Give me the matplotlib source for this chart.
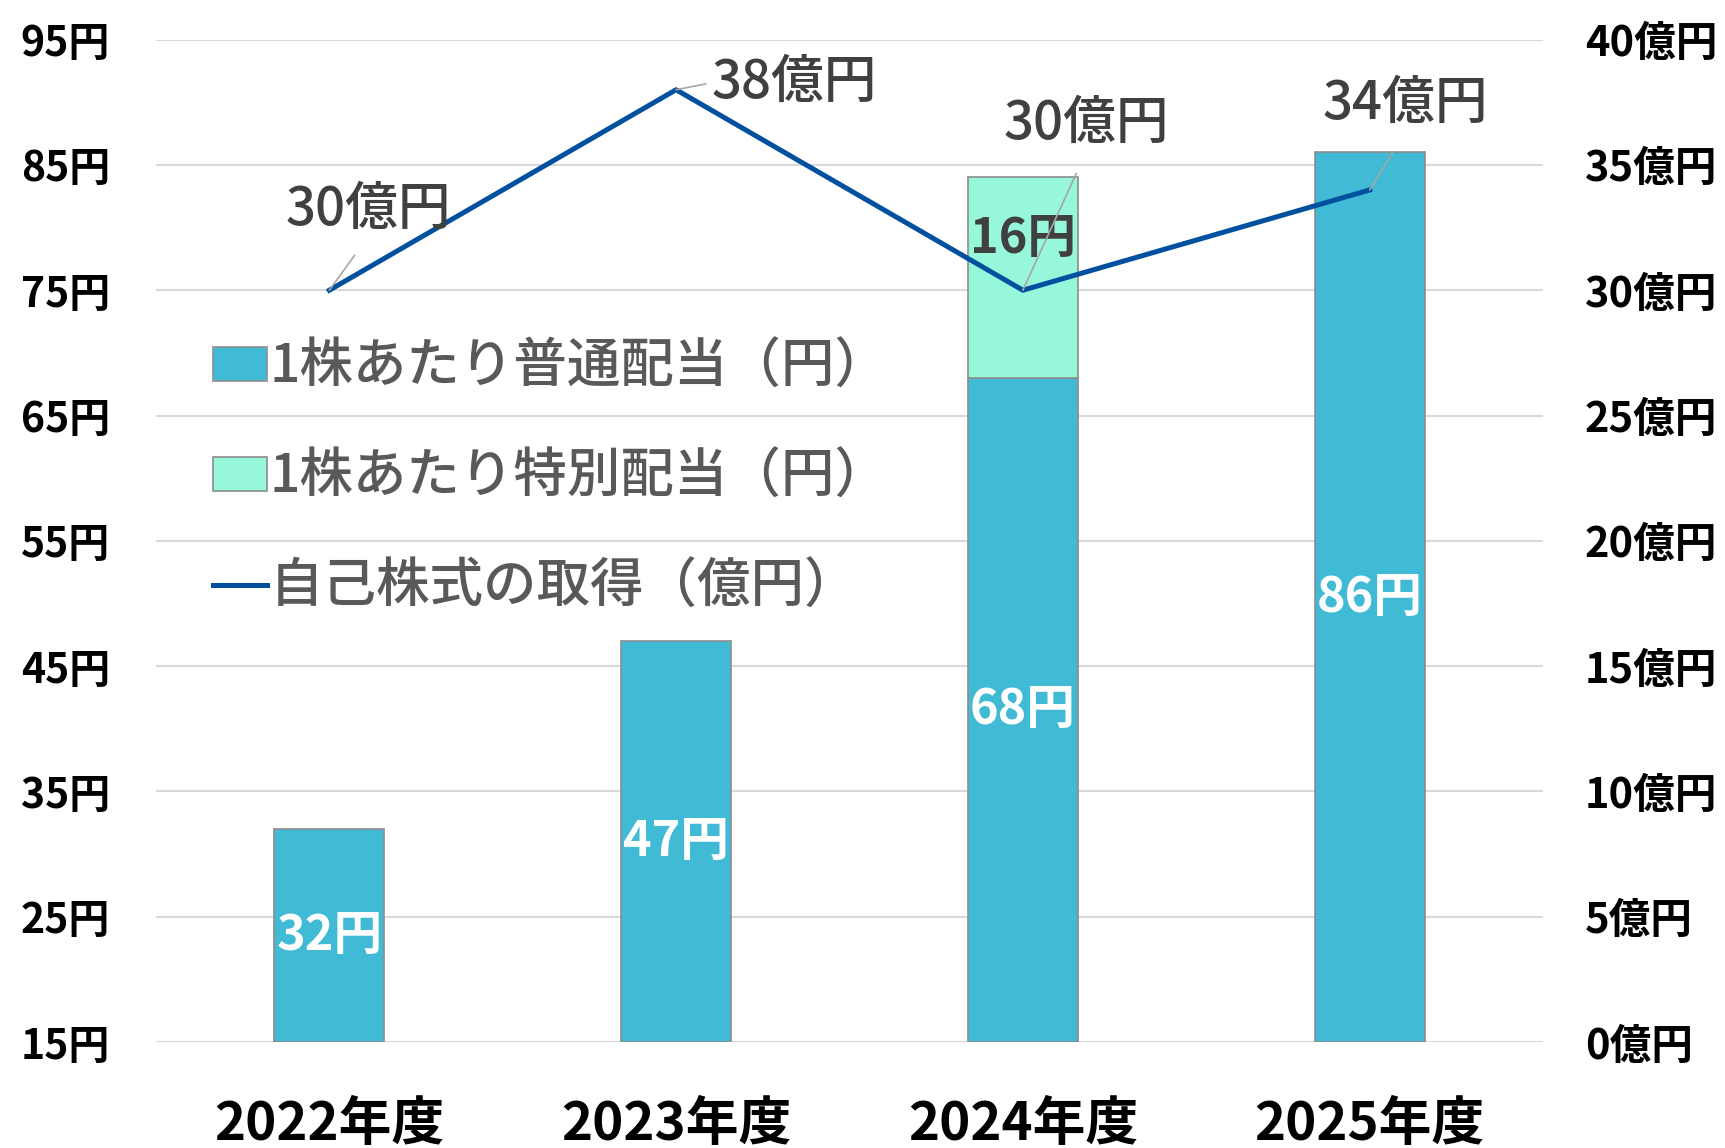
import matplotlib
matplotlib.use("Agg")
import matplotlib.pyplot as plt
import numpy as np

plt.rcParams['font.family'] = ['Noto Sans CJK JP', 'DejaVu Sans']

# データ
years = ["2022年度", "2023年度", "2024年度", "2025年度"]
normal_div = [32, 47, 68, 86]        # 1株あたり普通配当（円）
special_div = [0, 0, 16, 0]          # 1株あたり特別配当（円）
buyback = [30, 38, 30, 34]           # 自己株式の取得（億円）
left_ticks = [15, 25, 35, 45, 55, 65, 75, 85, 95]
right_ticks = [0, 5, 10, 15, 20, 25, 30, 35, 40]
labels = ["1株あたり普通配当（円）", "1株あたり特別配当（円）", "自己株式の取得（億円）"]

C_NORMAL = "#40BAD5"
C_SPECIAL = "#96F7DA"
C_LINE = "#0050A0"
C_EDGE = "#8C8C8C"

fig = plt.figure(figsize=(17.25, 11.48), dpi=100)
ax = fig.add_axes([0.0904, 0.0923, 0.8041, 0.8732])
ax2 = ax.twinx()

x = np.arange(len(years))
w = 0.317
base = 15
b1 = ax.bar(x, np.array(normal_div) - base, w, bottom=base, color=C_NORMAL,
            edgecolor=C_EDGE, linewidth=1.2, zorder=2)
b2 = ax.bar(x, special_div, w, bottom=normal_div, color=C_SPECIAL,
            edgecolor=C_EDGE, linewidth=1.2, zorder=2)
# 特別配当が0の棒は枠を消す
for r, v in zip(b2, special_div):
    if v == 0:
        r.set_visible(False)

ax.set_xlim(-0.5, len(years) - 0.5)
ax.set_ylim(left_ticks[0], left_ticks[-1])
ax.set_yticks(left_ticks)
ax.set_yticklabels([f"{v}円" for v in left_ticks], fontsize=29.5, fontweight="bold")
ax.set_xticks(x)
ax.set_xticklabels(years, fontsize=38, fontweight="bold")
ax.tick_params(axis="y", length=0, pad=33)
ax.tick_params(axis="x", length=0, pad=40)
ax.grid(axis="y", color="#D9D9D9", linewidth=1.5, zorder=0)
ax.set_axisbelow(True)
for s in ax.spines.values():
    s.set_visible(False)

# 棒ラベル
for i, v in enumerate(normal_div):
    ax.text(x[i], base + (v - base) / 2, f"{v}円", ha="center", va="center",
            fontsize=35, fontweight="bold", color="white", zorder=3)
for i, v in enumerate(special_div):
    if v:
        ax.annotate(f"{v}円", (x[i], normal_div[i] + v / 2), xytext=(0, 28),
                    textcoords="offset points", ha="center", va="center",
                    fontsize=35, fontweight="bold", color="#404040", zorder=3)

ln, = ax2.plot(x, buyback, color=C_LINE, linewidth=3.6, zorder=4)
ax2.set_ylim(right_ticks[0], right_ticks[-1])
ax2.set_yticks(right_ticks)
ax2.set_yticklabels([f"{v}億円" for v in right_ticks], fontsize=30, fontweight="bold")
ax2.tick_params(axis="y", length=0, pad=30)
for s in ax2.spines.values():
    s.set_visible(False)

offsets = [(28, 58), (85, 5), (46, 120), (26, 62)]
relpos = [(0.5, 0), (0, 0.5), (0.5, 0), (0.5, 0)]
shrink = [14, 2, 16, 16]
for i, v in enumerate(buyback):
    ax2.annotate(f"{v}億円", (x[i], v), xytext=offsets[i], textcoords="offset points",
                 ha="center", va="center", fontsize=38, fontweight="medium", color="#404040",
                 arrowprops=dict(arrowstyle="-", color="#A6A6A6", lw=1.2,
                                 relpos=relpos[i], shrinkA=shrink[i], shrinkB=0),
                 zorder=5)

special_handle = [r for r, v in zip(b2, special_div) if v][0]
leg = ax2.legend(handles=[b1[0], special_handle, ln], labels=labels,
                 loc="upper left", bbox_to_anchor=(0.026, 0.721),
                 frameon=False, fontsize=38.5, labelcolor="#595959",
                 handlelength=1.0, handleheight=0.6, handletextpad=0.05,
                 labelspacing=1.05, borderaxespad=0)
for t in leg.get_texts():
    t.set_fontweight("medium")

fig.savefig("out.png", dpi=100)
